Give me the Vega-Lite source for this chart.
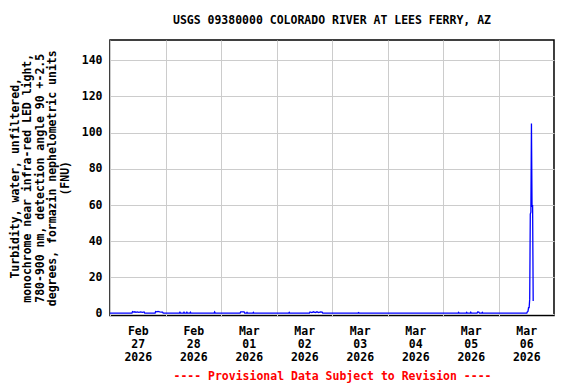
{
  "$schema": "https://vega.github.io/schema/vega-lite/v6.json",
  "width": 444,
  "height": 275.6,
  "autosize": "none",
  "padding": {"left": 110, "top": 40, "right": 22, "bottom": 68},
  "background": "white",
  "config": {"view": {"stroke": "black", "strokeWidth": 1.5}, "font": "DejaVu Sans Mono"},
  "title": {
    "text": "USGS 09380000 COLORADO RIVER AT LEES FERRY, AZ",
    "font": "DejaVu Sans Mono", "fontSize": 11.5, "fontWeight": "bold", "color": "black",
    "anchor": "middle", "baseline": "alphabetic", "offset": 4
  },
  "data": {"values": [
    {"t": "2026-02-27T00:00", "v": 0.3}, {"t": "2026-02-27T03:00", "v": 0.3}, {"t": "2026-02-27T06:00", "v": 0.3},
    {"t": "2026-02-27T09:00", "v": 0.3}, {"t": "2026-02-27T09:30", "v": 0.3}, {"t": "2026-02-27T09:45", "v": 1.1},
    {"t": "2026-02-27T10:15", "v": 0.8}, {"t": "2026-02-27T10:45", "v": 1.0}, {"t": "2026-02-27T11:15", "v": 0.7},
    {"t": "2026-02-27T11:45", "v": 0.9}, {"t": "2026-02-27T12:30", "v": 0.7}, {"t": "2026-02-27T13:15", "v": 0.9},
    {"t": "2026-02-27T14:00", "v": 0.7}, {"t": "2026-02-27T14:45", "v": 0.9}, {"t": "2026-02-27T15:00", "v": 0.3},
    {"t": "2026-02-27T18:00", "v": 0.3}, {"t": "2026-02-27T19:30", "v": 0.3}, {"t": "2026-02-27T19:45", "v": 1.2},
    {"t": "2026-02-27T20:15", "v": 1.0}, {"t": "2026-02-27T20:45", "v": 1.2}, {"t": "2026-02-27T21:30", "v": 0.9},
    {"t": "2026-02-27T22:15", "v": 0.8}, {"t": "2026-02-27T22:45", "v": 0.8}, {"t": "2026-02-27T23:00", "v": 0.3},
    {"t": "2026-02-28T02:00", "v": 0.3}, {"t": "2026-02-28T05:00", "v": 0.3}, {"t": "2026-02-28T06:00", "v": 0.3},
    {"t": "2026-02-28T06:15", "v": 0.8}, {"t": "2026-02-28T06:30", "v": 0.3}, {"t": "2026-02-28T07:45", "v": 0.3},
    {"t": "2026-02-28T08:00", "v": 0.8}, {"t": "2026-02-28T08:15", "v": 0.3}, {"t": "2026-02-28T09:00", "v": 0.3},
    {"t": "2026-02-28T09:15", "v": 0.8}, {"t": "2026-02-28T09:30", "v": 0.3}, {"t": "2026-02-28T10:30", "v": 0.3},
    {"t": "2026-02-28T10:45", "v": 0.8}, {"t": "2026-02-28T11:00", "v": 0.3}, {"t": "2026-02-28T15:00", "v": 0.3},
    {"t": "2026-02-28T21:00", "v": 0.3}, {"t": "2026-02-28T21:15", "v": 0.9}, {"t": "2026-02-28T21:30", "v": 0.3},
    {"t": "2026-03-01T03:00", "v": 0.3}, {"t": "2026-03-01T08:15", "v": 0.3}, {"t": "2026-03-01T08:30", "v": 0.9},
    {"t": "2026-03-01T09:15", "v": 1.0}, {"t": "2026-03-01T10:00", "v": 0.9}, {"t": "2026-03-01T10:15", "v": 0.3},
    {"t": "2026-03-01T11:00", "v": 0.3}, {"t": "2026-03-01T11:15", "v": 0.7}, {"t": "2026-03-01T11:30", "v": 0.3},
    {"t": "2026-03-01T13:45", "v": 0.3}, {"t": "2026-03-01T14:00", "v": 0.7}, {"t": "2026-03-01T14:15", "v": 0.3},
    {"t": "2026-03-01T20:00", "v": 0.3}, {"t": "2026-03-02T02:00", "v": 0.3}, {"t": "2026-03-02T05:15", "v": 0.3},
    {"t": "2026-03-02T05:30", "v": 0.7}, {"t": "2026-03-02T05:45", "v": 0.3}, {"t": "2026-03-02T10:00", "v": 0.3},
    {"t": "2026-03-02T14:15", "v": 0.3}, {"t": "2026-03-02T14:30", "v": 0.9}, {"t": "2026-03-02T15:15", "v": 0.6},
    {"t": "2026-03-02T16:00", "v": 1.0}, {"t": "2026-03-02T16:45", "v": 0.6}, {"t": "2026-03-02T17:30", "v": 1.0},
    {"t": "2026-03-02T18:15", "v": 0.6}, {"t": "2026-03-02T19:00", "v": 0.9}, {"t": "2026-03-02T19:45", "v": 0.8},
    {"t": "2026-03-02T20:00", "v": 0.3}, {"t": "2026-03-03T02:00", "v": 0.3}, {"t": "2026-03-03T07:00", "v": 0.3},
    {"t": "2026-03-03T11:15", "v": 0.3}, {"t": "2026-03-03T11:30", "v": 0.6}, {"t": "2026-03-03T11:45", "v": 0.3},
    {"t": "2026-03-03T18:00", "v": 0.3}, {"t": "2026-03-04T00:00", "v": 0.3}, {"t": "2026-03-04T06:00", "v": 0.3},
    {"t": "2026-03-04T12:00", "v": 0.3}, {"t": "2026-03-04T18:00", "v": 0.3}, {"t": "2026-03-05T00:00", "v": 0.3},
    {"t": "2026-03-05T06:30", "v": 0.3}, {"t": "2026-03-05T06:45", "v": 0.7}, {"t": "2026-03-05T07:00", "v": 0.3},
    {"t": "2026-03-05T10:00", "v": 0.3}, {"t": "2026-03-05T10:15", "v": 0.7}, {"t": "2026-03-05T10:30", "v": 0.3},
    {"t": "2026-03-05T11:45", "v": 0.3}, {"t": "2026-03-05T12:00", "v": 0.8}, {"t": "2026-03-05T12:15", "v": 0.3},
    {"t": "2026-03-05T14:45", "v": 0.3}, {"t": "2026-03-05T15:00", "v": 0.9}, {"t": "2026-03-05T15:30", "v": 0.8},
    {"t": "2026-03-05T15:45", "v": 0.3}, {"t": "2026-03-05T16:45", "v": 0.3}, {"t": "2026-03-05T17:00", "v": 0.7},
    {"t": "2026-03-05T17:15", "v": 0.3}, {"t": "2026-03-05T21:00", "v": 0.3}, {"t": "2026-03-06T03:00", "v": 0.3},
    {"t": "2026-03-06T08:00", "v": 0.3}, {"t": "2026-03-06T12:15", "v": 0.3}, {"t": "2026-03-06T12:30", "v": 1.0},
    {"t": "2026-03-06T12:45", "v": 1.2}, {"t": "2026-03-06T13:00", "v": 3.3}, {"t": "2026-03-06T13:15", "v": 3.3},
    {"t": "2026-03-06T13:30", "v": 8.0}, {"t": "2026-03-06T13:45", "v": 55.0}, {"t": "2026-03-06T14:00", "v": 56.0},
    {"t": "2026-03-06T14:15", "v": 105.0}, {"t": "2026-03-06T14:30", "v": 59.0}, {"t": "2026-03-06T14:45", "v": 60.0},
    {"t": "2026-03-06T15:00", "v": 7.0}
  ]},
  "mark": {"type": "line", "color": "#0000ff", "strokeWidth": 1.3, "clip": true},
  "encoding": {
    "x": {
      "field": "t", "type": "temporal",
      "scale": {"domain": [{"year": 2026, "month": "feb", "date": 27}, {"year": 2026, "month": "mar", "date": 7}]},
      "axis": {
        "values": [
          {"year": 2026, "month": "feb", "date": 27}, {"year": 2026, "month": "feb", "date": 28},
          {"year": 2026, "month": "mar", "date": 1}, {"year": 2026, "month": "mar", "date": 2},
          {"year": 2026, "month": "mar", "date": 3}, {"year": 2026, "month": "mar", "date": 4},
          {"year": 2026, "month": "mar", "date": 5}, {"year": 2026, "month": "mar", "date": 6}
        ],
        "grid": true, "gridColor": "#cccccc", "gridWidth": 1,
        "ticks": false, "domain": false,
        "labelOffset": 27.75, "labelAlign": "center", "labelBaseline": "top",
        "labelExpr": "[timeFormat(datum.value, '%b'), timeFormat(datum.value, '%d'), timeFormat(datum.value, '%Y')]",
        "labelFont": "DejaVu Sans Mono", "labelFontSize": 11.5, "labelFontWeight": "bold", "labelColor": "black",
        "labelLineHeight": 12.8, "labelPadding": 10, "labelFlush": false, "labelOverlap": false,
        "title": "---- Provisional Data Subject to Revision ----",
        "titleColor": "#ff0000", "titleFont": "DejaVu Sans Mono", "titleFontSize": 11.5, "titleFontWeight": "bold",
        "titlePadding": 8
      }
    },
    "y": {
      "field": "v", "type": "quantitative",
      "scale": {"domain": [-1.1, 151.2], "nice": false, "zero": false},
      "axis": {
        "values": [0, 20, 40, 60, 80, 100, 120, 140],
        "grid": true, "gridColor": "#cccccc", "gridWidth": 1,
        "ticks": false, "domain": false,
        "labelFont": "DejaVu Sans Mono", "labelFontSize": 11.5, "labelFontWeight": "bold", "labelColor": "black",
        "labelPadding": 8,
        "title": ["Turbidity, water, unfiltered,", "monochrome near infra-red LED light,", "780-900 nm, detection angle 90 +-2.5", "degrees, formazin nephelometric units", "(FNU)"],
        "titleFont": "DejaVu Sans Mono", "titleFontSize": 11.5, "titleFontWeight": "bold", "titleColor": "black",
        "titleLineHeight": 12.5, "titlePadding": 11
      }
    }
  }
}
